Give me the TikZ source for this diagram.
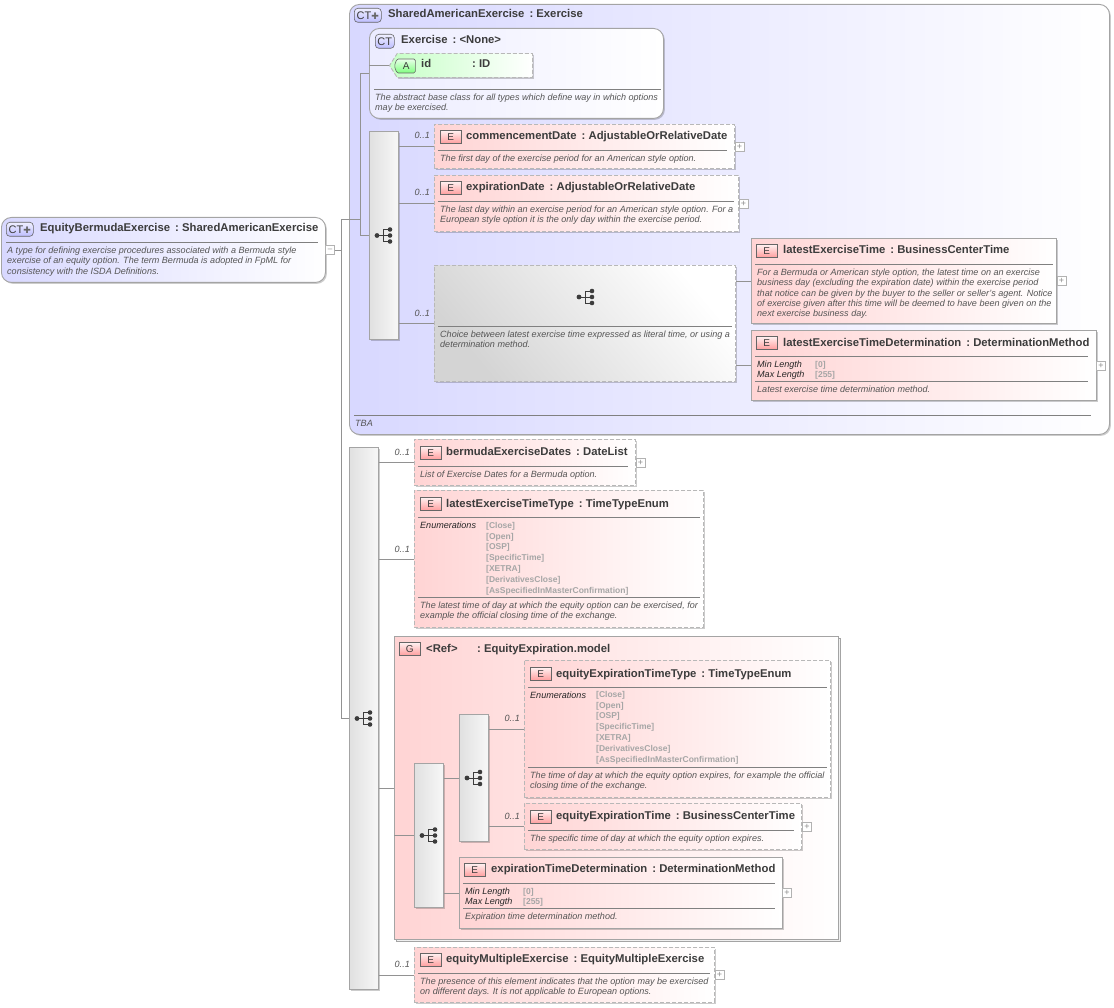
\documentclass[tikz,border=0pt]{standalone}
\usepackage{fontspec}
\setmainfont{Liberation Sans}
\newfontfamily\symfont{DejaVu Sans}
\usetikzlibrary{shadows,shadings,shapes.symbols}
\definecolor{linegray}{HTML}{929292}
\definecolor{edgegray}{HTML}{B8B8B8}
\definecolor{solidgray}{HTML}{A4A4A4}
\definecolor{inkgray}{HTML}{3C3C3C}
\definecolor{descgray}{HTML}{555555}
\definecolor{valgray}{HTML}{A6A6A6}
\definecolor{rosy}{HTML}{FFD4D4}
\definecolor{blueish}{HTML}{D8D8FF}
\definecolor{mint}{HTML}{C6FFC6}
\newcommand{\ctplus}{CT{\symfont\fontsize{9}{9}\selectfont\color{black!60}✚}}
\newcommand{\typeof}{\,\ :\ }
\tikzset{
  pics/seqicon/.style = {code = {
    \draw[inkgray, line width=.8pt] (-7,0) -- (-1,0) (-1,-6) -- (-1,6) (-1,-6) -- (6,-6) (-1,0) -- (6,0) (-1,6) -- (6,6);
    \fill[inkgray] (-7,0) circle (2.4) (6,-6) circle (2.3) (6,0) circle (2.3) (6,6) circle (2.3);
  }}
}
\begin{document}
\begin{tikzpicture}[
x=1pt, y=-1pt,
shd/.style = {drop shadow={shadow xshift=1.4pt, shadow yshift=-1.4pt, fill=black, opacity=.2}},
ebox/.style = {draw=edgegray, dashed, dash pattern=on 4pt off 2pt, line width=.9pt, left color=rosy, right color=white, shd, anchor=north west, inner sep=0pt},
sbox/.style = {draw=solidgray, line width=.9pt, left color=rosy, right color=white, shd, anchor=north west, inner sep=0pt},
ctbox/.style = {draw=solidgray, line width=.9pt, rounded corners=10pt, shd, anchor=north west, inner sep=0pt},
seqbox/.style = {draw=solidgray, line width=.9pt, left color=black!12, right color=black!3, shd, anchor=north west, inner sep=0pt, minimum width=29pt},
badge/.style = {draw=black!60, line width=.6pt, top color=rosy!30, bottom color=red!38!white, minimum width=21pt, minimum height=13pt, inner sep=0pt, anchor=north west, text=inkgray, font=\fontsize{10}{10}\selectfont},
ctbadge/.style = {badge, rounded corners=3.5pt, top color=blue!6, bottom color=blue!26, font=\fontsize{11}{11}\selectfont},
titl/.style = {anchor=west, yshift=-2pt, inner sep=0pt, text=inkgray, text height=7pt, text depth=3pt, font=\fontsize{11.3}{11.3}\selectfont\bfseries},
descr/.style = {anchor=north west, yshift=-.7pt, inner sep=0pt, align=left, text=descgray, font=\fontsize{9.05}{10.3}\selectfont\itshape},
keyname/.style = {anchor=north west, yshift=-.7pt, inner sep=0pt, align=left, text=black!85, font=\fontsize{9.05}{10}\selectfont\itshape},
vals/.style = {anchor=north west, yshift=-1pt, inner sep=0pt, align=left, text=valgray, font=\fontsize{8.5}{10.8}\selectfont\bfseries},
rul/.style = {anchor=west, fill=black!50, inner sep=0pt, minimum height=.7pt},
occ/.style = {anchor=east, yshift=-.8pt, inner sep=0pt, text=descgray, font=\fontsize{9.05}{9}\selectfont\itshape},
pm/.style = {draw=black!30, fill=white, minimum size=9pt, inner sep=0pt, text=black!45, font=\fontsize{9}{9}\selectfont},
conn/.style = {draw=linegray, line width=.7pt}
]
  \useasboundingbox (0,0) rectangle (1114,1008);

  % root type
  \node[ctbox, left color=blueish, right color=white, minimum width=324pt, minimum height=65pt] (root) at (1,217) {};
  \node[ctbadge, minimum width=27pt, minimum height=14pt] (rootBadge) at (6,222) {\ctplus};
  \node[titl] (rootTitle) at (40,228) {EquityBermudaExercise\typeof SharedAmericanExercise};
  \node[rul, minimum width=312pt] (rootRule) at (6,242) {};
  \node[descr] (rootDesc) at (7,246) {A type for defining exercise procedures associated with a Bermuda style\\exercise of an equity option. The term Bermuda is adopted in FpML for\\consistency with the ISDA Definitions.};
  \node[pm, font=\fontsize{8}{8}\selectfont] (rootMinus) at (330,250) {--};

  % shared base
  \node[ctbox, left color=blueish, right color=white, minimum width=760pt, minimum height=430pt] (shared) at (349,4) {};
  \node[ctbadge, minimum width=27pt, minimum height=14pt] (sharedBadge) at (354,8) {\ctplus};
  \node[titl] (sharedTitle) at (388,14) {SharedAmericanExercise\typeof Exercise};
  \node[rul, minimum width=737pt] (sharedRule) at (354,415) {};
  \node[descr] (sharedDesc) at (355,419) {TBA};

  % exercise type
  \node[ctbox, left color=blueish!50, right color=white, minimum width=294pt, minimum height=90pt] (exercise) at (369,28) {};
  \node[ctbadge, minimum width=19pt, minimum height=14pt] (exerciseBadge) at (375,34) {CT};
  \node[titl] (exerciseTitle) at (401,40) {Exercise\typeof <None>};
  \node[signal, signal to=west, signal from=nowhere, signal pointer angle=115, draw=edgegray, dashed, dash pattern=on 4pt off 2pt, line width=.9pt, left color=mint, right color=white, shd, inner sep=0pt, minimum width=143pt, minimum height=24pt, anchor=west] (idAttr) at (389,65.5) {};
  \node[signal, signal to=west, signal from=nowhere, signal pointer angle=140, rounded corners=1.5pt, draw=black!60, line width=.6pt, top color=mint!40, bottom color=green!50!white, inner sep=0pt, minimum width=21pt, minimum height=14pt, anchor=west, text=inkgray, font=\fontsize{10}{10}\selectfont] (idBadge) at (394,66) {A};
  \node[titl] (idTitle) at (421,64) {\makebox[51pt][l]{id}:\ ID};
  \node[rul, minimum width=287pt] (exerciseRule) at (374,89) {};
  \node[descr] (exerciseDesc) at (375,93) {The abstract base class for all types which define way in which options\\may be exercised.};

  % sequence inside the base
  \node[seqbox, minimum height=208pt] (seqA) at (369,131) {};
  \pic at (384,235.5) {seqicon};

  \node[ebox, minimum width=300pt, minimum height=44pt] (commence) at (434,124) {};
  \node[badge] (commenceBadge) at (440,130) {E};
  \node[titl] (commenceTitle) at (466,136) {commencementDate\typeof AdjustableOrRelativeDate};
  \node[rul, minimum width=289pt] (commenceRule) at (438,150) {};
  \node[descr] (commenceDesc) at (440,154) {The first day of the exercise period for an American style option.};
  \node[pm] (commencePlus) at (739.5,146.5) {+};
  \node[occ] (commenceOcc) at (430,135) {0..1};

  \node[ebox, minimum width=304pt, minimum height=56pt] (expDate) at (434,175) {};
  \node[badge] (expDateBadge) at (440,181) {E};
  \node[titl] (expDateTitle) at (466,187) {expirationDate\typeof AdjustableOrRelativeDate};
  \node[rul, minimum width=296pt] (expDateRule) at (438,201) {};
  \node[descr] (expDateDesc) at (440,205) {The last day within an exercise period for an American style option. For a\\European style option it is the only day within the exercise period.};
  \node[pm] (expDatePlus) at (743.5,203.5) {+};
  \node[occ] (expDateOcc) at (430,192) {0..1};

  \node[ebox, left color=black!17, right color=white, shading angle=130, minimum width=301pt, minimum height=116pt] (choice) at (434,265) {};
  \pic at (586,297) {seqicon};
  \node[rul, minimum width=294pt] (choiceRule) at (438,326) {};
  \node[descr] (choiceDesc) at (440,330) {Choice between latest exercise time expressed as literal time, or using a\\determination method.};
  \node[occ] (choiceOcc) at (430,313) {0..1};

  \node[sbox, minimum width=305pt, minimum height=85pt] (latestTime) at (751,238) {};
  \node[badge] (latestTimeBadge) at (756,244) {E};
  \node[titl] (latestTimeTitle) at (783,250) {latestExerciseTime\typeof BusinessCenterTime};
  \node[rul, minimum width=298pt] (latestTimeRule) at (755,264) {};
  \node[descr] (latestTimeDesc) at (757,268) {For a Bermuda or American style option, the latest time on an exercise\\business day (excluding the expiration date) within the exercise period\\that notice can be given by the buyer to the seller or seller's agent. Notice\\of exercise given after this time will be deemed to have been given on the\\next exercise business day.};
  \node[pm] (latestTimePlus) at (1061.5,281) {+};

  \node[sbox, minimum width=345pt, minimum height=70pt] (latestDet) at (751,330) {};
  \node[badge] (latestDetBadge) at (756,336) {E};
  \node[titl] (latestDetTitle) at (783,342) {latestExerciseTimeDetermination\typeof DeterminationMethod};
  \node[rul, minimum width=333pt] (latestDetRule) at (755,356) {};
  \node[keyname] (latestDetKeys) at (757,360) {Min Length\\Max Length};
  \node[vals] (latestDetVals) at (815,360) {{[0]}\\[-.9pt]{[255]}};
  \node[rul, minimum width=333pt] (latestDetRuleB) at (755,381) {};
  \node[descr] (latestDetDesc) at (757,385) {Latest exercise time determination method.};
  \node[pm] (latestDetPlus) at (1101,365.5) {+};

  % main sequence
  \node[seqbox, minimum height=542pt] (seqB) at (349,447) {};
  \pic at (364,718.5) {seqicon};

  \node[ebox, minimum width=221pt, minimum height=46pt] (bermuda) at (414,439) {};
  \node[badge] (bermudaBadge) at (420,446) {E};
  \node[titl] (bermudaTitle) at (446,451) {bermudaExerciseDates\typeof DateList};
  \node[rul, minimum width=210pt] (bermudaRule) at (418,466) {};
  \node[descr] (bermudaDesc) at (420,470) {List of Exercise Dates for a Bermuda option.};
  \node[pm] (bermudaPlus) at (640.5,462.5) {+};
  \node[occ] (bermudaOcc) at (410,452) {0..1};

  \node[ebox, minimum width=289pt, minimum height=137pt] (timeType) at (414,490) {};
  \node[badge] (timeTypeBadge) at (420,497) {E};
  \node[titl] (timeTypeTitle) at (446,503) {latestExerciseTimeType\typeof TimeTypeEnum};
  \node[rul, minimum width=282pt] (timeTypeRule) at (418,517) {};
  \node[keyname] (timeTypeKeys) at (420,521) {Enumerations};
  \node[vals] (timeTypeVals) at (486,521) {{[Close]}\\{[Open]}\\{[OSP]}\\{[SpecificTime]}\\{[XETRA]}\\{[DerivativesClose]}\\{[AsSpecifiedInMasterConfirmation]}};
  \node[rul, minimum width=282pt] (timeTypeRuleB) at (418,597) {};
  \node[descr] (timeTypeDesc) at (420,601) {The latest time of day at which the equity option can be exercised, for\\example the official closing time of the exchange.};
  \node[occ] (timeTypeOcc) at (410,549) {0..1};

  % group
  \node[draw=solidgray, line width=.9pt, left color=rosy, right color=white, anchor=north west, inner sep=0pt, minimum width=444pt, minimum height=303pt, copy shadow={shadow xshift=2pt, shadow yshift=-2pt, draw=solidgray, fill=black!6}] (grp) at (394,636) {};
  \node[badge] (grpBadge) at (399,642) {G};
  \node[titl] (grpTitle) at (426,648) {\makebox[51pt][l]{<Ref>}:\ EquityExpiration.model};

  \node[seqbox, minimum height=144pt] (seqC) at (414,763) {};
  \pic at (429,835.5) {seqicon};
  \node[seqbox, minimum height=127pt] (seqD) at (459,714) {};
  \pic at (474,778) {seqicon};

  \node[ebox, minimum width=306pt, minimum height=137pt] (expType) at (524,660) {};
  \node[badge] (expTypeBadge) at (530,667) {E};
  \node[titl] (expTypeTitle) at (556,673) {equityExpirationTimeType\typeof TimeTypeEnum};
  \node[rul, minimum width=299pt] (expTypeRule) at (528,687) {};
  \node[keyname] (expTypeKeys) at (530,691) {Enumerations};
  \node[vals] (expTypeVals) at (596,690) {{[Close]}\\{[Open]}\\{[OSP]}\\{[SpecificTime]}\\{[XETRA]}\\{[DerivativesClose]}\\{[AsSpecifiedInMasterConfirmation]}};
  \node[rul, minimum width=299pt] (expTypeRuleB) at (528,767) {};
  \node[descr] (expTypeDesc) at (530,771) {The time of day at which the equity option expires, for example the official\\closing time of the exchange.};
  \node[occ] (expTypeOcc) at (520,718) {0..1};

  \node[ebox, minimum width=277pt, minimum height=46pt] (expTime) at (524,803) {};
  \node[badge] (expTimeBadge) at (530,810) {E};
  \node[titl] (expTimeTitle) at (556,815) {equityExpirationTime\typeof BusinessCenterTime};
  \node[rul, minimum width=266pt] (expTimeRule) at (528,830) {};
  \node[descr] (expTimeDesc) at (530,834) {The specific time of day at which the equity option expires.};
  \node[pm] (expTimePlus) at (807,826.5) {+};
  \node[occ] (expTimeOcc) at (520,816) {0..1};

  \node[sbox, minimum width=323pt, minimum height=71pt] (expDet) at (459,857) {};
  \node[badge] (expDetBadge) at (464,863) {E};
  \node[titl] (expDetTitle) at (491,868) {expirationTimeDetermination\typeof DeterminationMethod};
  \node[rul, minimum width=312pt] (expDetRule) at (463,883) {};
  \node[keyname] (expDetKeys) at (465,887) {Min Length\\Max Length};
  \node[vals] (expDetVals) at (523,887) {{[0]}\\[-.9pt]{[255]}};
  \node[rul, minimum width=312pt] (expDetRuleB) at (463,908) {};
  \node[descr] (expDetDesc) at (465,912) {Expiration time determination method.};
  \node[pm] (expDetPlus) at (787,893) {+};

  \node[ebox, minimum width=300pt, minimum height=55pt] (multi) at (414,947) {};
  \node[badge] (multiBadge) at (420,953) {E};
  \node[titl] (multiTitle) at (446,958) {equityMultipleExercise\typeof EquityMultipleExercise};
  \node[rul, minimum width=292pt] (multiRule) at (418,973) {};
  \node[descr] (multiDesc) at (420,977) {The presence of this element indicates that the option may be exercised\\on different days. It is not applicable to European options.};
  \node[pm] (multiPlus) at (719.5,975) {+};
  \node[occ] (multiOcc) at (410,964) {0..1};

  % connectors
  \coordinate (rootjoin) at (341,250);
  \coordinate (sharedjoin) at (360,219.5);
  \path[conn] (rootMinus) -- (rootjoin);
  \path[conn] (rootjoin) |- (sharedjoin);
  \path[conn] (rootjoin) |- (seqB.west);
  \path[conn] (sharedjoin) |- (exercise.west);
  \path[conn] (sharedjoin) |- (seqA.west);
  \path[conn] (exercise.west |- idAttr.west) -- (idAttr.west);
  \path[conn] (seqA.east |- commence.west) -- (commence.west);
  \path[conn] (seqA.east |- expDate.west) -- (expDate.west);
  \path[conn] (seqA.east |- choice.west) -- (choice.west);
  \path[conn] (choice.east |- latestTime.west) -- (latestTime.west);
  \path[conn] (choice.east |- latestDet.west) -- (latestDet.west);
  \path[conn] (seqB.east |- bermuda.west) -- (bermuda.west);
  \path[conn] (seqB.east |- timeType.west) -- (timeType.west);
  \path[conn] (seqB.east |- grp.west) -- (grp.west);
  \path[conn] (seqB.east |- multi.west) -- (multi.west);
  \path[conn] (grp.west |- seqC.west) -- (seqC.west);
  \path[conn] (seqC.east |- seqD.west) -- (seqD.west);
  \path[conn] (seqC.east |- expDet.west) -- (expDet.west);
  \path[conn] (seqD.east |- expType.west) -- (expType.west);
  \path[conn] (seqD.east |- expTime.west) -- (expTime.west);

\end{tikzpicture}
\end{document}
